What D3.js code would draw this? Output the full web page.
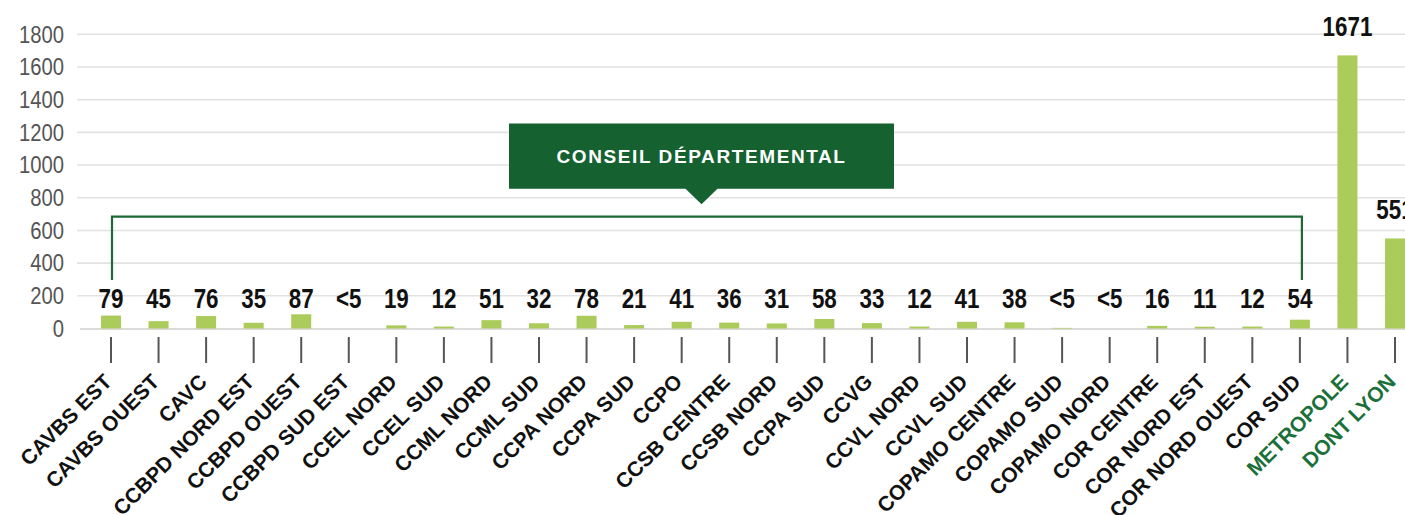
<!DOCTYPE html>
<html>
<head>
<meta charset="utf-8">
<script src="https://cdn.jsdelivr.net/npm/d3@7"></script>
<style>
  body { margin: 0; background: #fff; }
  svg { display: block; }
</style>
</head>
<body>
<div id="chart"></div>
<script>
// data
var categories = ["CAVBS EST", "CAVBS OUEST", "CAVC", "CCBPD NORD EST", "CCBPD OUEST", "CCBPD SUD EST",
  "CCEL NORD", "CCEL SUD", "CCML NORD", "CCML SUD", "CCPA NORD", "CCPA SUD", "CCPO", "CCSB CENTRE",
  "CCSB NORD", "CCPA SUD", "CCVG", "CCVL NORD", "CCVL SUD", "COPAMO CENTRE", "COPAMO SUD", "COPAMO NORD",
  "COR CENTRE", "COR NORD EST", "COR NORD OUEST", "COR SUD", "METROPOLE", "DONT LYON"];
var values = [79, 45, 76, 35, 87, 0, 19, 12, 51, 32, 78, 21, 41, 36, 31, 58, 33, 12, 41, 38, 4, 0, 16, 11, 12, 54, 1671, 551];
var valueLabels = ["79", "45", "76", "35", "87", "<5", "19", "12", "51", "32", "78", "21", "41", "36", "31",
  "58", "33", "12", "41", "38", "<5", "<5", "16", "11", "12", "54", "1671", "551"];
var greenCategories = ["METROPOLE", "DONT LYON"];
var yTicks = [0, 200, 400, 600, 800, 1000, 1200, 1400, 1600, 1800];
var calloutText = "CONSEIL DÉPARTEMENTAL";
var calloutFrom = "CAVBS EST", calloutTo = "COR SUD";

var width = 1405, height = 515;

var svg = d3.select("#chart").append("svg")
  .attr("width", width)
  .attr("height", height);

// categories list has a duplicate name (CCPA SUD), so the scale uses the index
var x = d3.scalePoint()
  .domain(d3.range(categories.length))
  .range([111, 1395]);
var barW = 20;

var y = d3.scaleLinear()
  .domain([0, 1800])
  .range([328.5, 34.3]);

// gridlines
svg.append("g").selectAll("line")
  .data(yTicks.filter(d => d > 0))
  .enter().append("line")
  .attr("x1", 77).attr("x2", width)
  .attr("y1", d => y(d)).attr("y2", d => y(d))
  .style("stroke", "#e2e2e2")
  .style("stroke-width", 1.6);

// y labels (narrowed arial look)
svg.append("g").selectAll("text")
  .data(yTicks)
  .enter().append("text")
  .attr("transform", d => "translate(64," + y(d) + ") scale(0.88,1)")
  .attr("dy", "0.36em")
  .attr("text-anchor", "end")
  .style("font-family", "'Liberation Sans', Arial, sans-serif")
  .style("font-size", "23px")
  .style("fill", "#555")
  .text(d => d);

// baseline
svg.append("line")
  .attr("x1", 80).attr("x2", width)
  .attr("y1", y(0) + 0.5).attr("y2", y(0) + 0.5)
  .style("stroke", "#cfcfcf")
  .style("stroke-width", 1.5);

// bars
svg.append("g").selectAll("rect")
  .data(values)
  .enter().append("rect")
  .attr("x", (d, i) => x(i) - barW / 2)
  .attr("width", barW)
  .attr("y", d => y(d))
  .attr("height", d => y(0) - y(d))
  .style("fill", "#abcb5a");

// value labels: small ones sit on one row, tall bars get theirs on top
svg.append("g").selectAll("text")
  .data(values)
  .enter().append("text")
  .attr("transform", (d, i) => "translate(" + x(i) + "," + (y(d) < 300 ? y(d) - 19 : 308) + ") scale(0.8,1)")
  .attr("text-anchor", "middle")
  .style("font-family", "'Liberation Sans', Arial, sans-serif")
  .style("font-weight", "bold")
  .style("font-size", "28px")
  .style("fill", "#111")
  .text((d, i) => valueLabels[i]);

// tick marks
svg.append("g").selectAll("line")
  .data(categories)
  .enter().append("line")
  .attr("x1", (d, i) => x(i)).attr("x2", (d, i) => x(i))
  .attr("y1", 337).attr("y2", 363)
  .style("stroke", "#555")
  .style("stroke-width", 2);

// category labels
svg.append("g").selectAll("text")
  .data(categories)
  .enter().append("text")
  .attr("transform", (d, i) => "translate(" + (x(i) + 2) + ",383) rotate(-45)")
  .attr("text-anchor", "end")
  .style("font-family", "'Liberation Sans', Arial, sans-serif")
  .style("font-weight", "bold")
  .style("font-size", "21px")
  .style("fill", d => greenCategories.indexOf(d) >= 0 ? "#1a7038" : "#111")
  .text(d => d);

// bracket + callout
var bx0 = x(categories.indexOf(calloutFrom)) + 1;
var bx1 = x(categories.lastIndexOf(calloutTo)) + 2;
var by = y(685), byEnd = y(297);
svg.append("path")
  .attr("d", "M" + bx0 + "," + byEnd + "V" + by + "H" + bx1 + "V" + byEnd)
  .style("fill", "none")
  .style("stroke", "#1b6a35")
  .style("stroke-width", 2.2);

var cx = 701.5, boxTop = y(1255), boxBot = y(855), boxW = 385;
var callout = svg.append("g");
callout.append("path")
  .attr("d", "M" + (cx - boxW / 2) + "," + boxTop + "H" + (cx + boxW / 2) + "V" + boxBot +
    "H" + (cx + 16) + "L" + cx + "," + (boxBot + 15.5) + "L" + (cx - 16) + "," + boxBot +
    "H" + (cx - boxW / 2) + "Z")
  .style("fill", "#156230");
callout.append("text")
  .attr("x", cx)
  .attr("y", (boxTop + boxBot) / 2)
  .attr("dy", "0.36em")
  .attr("text-anchor", "middle")
  .style("font-family", "'Liberation Sans', Arial, sans-serif")
  .style("font-weight", "bold")
  .style("font-size", "19px")
  .style("letter-spacing", "1.6px")
  .style("fill", "#fff")
  .text(calloutText);
</script>
</body>
</html>
